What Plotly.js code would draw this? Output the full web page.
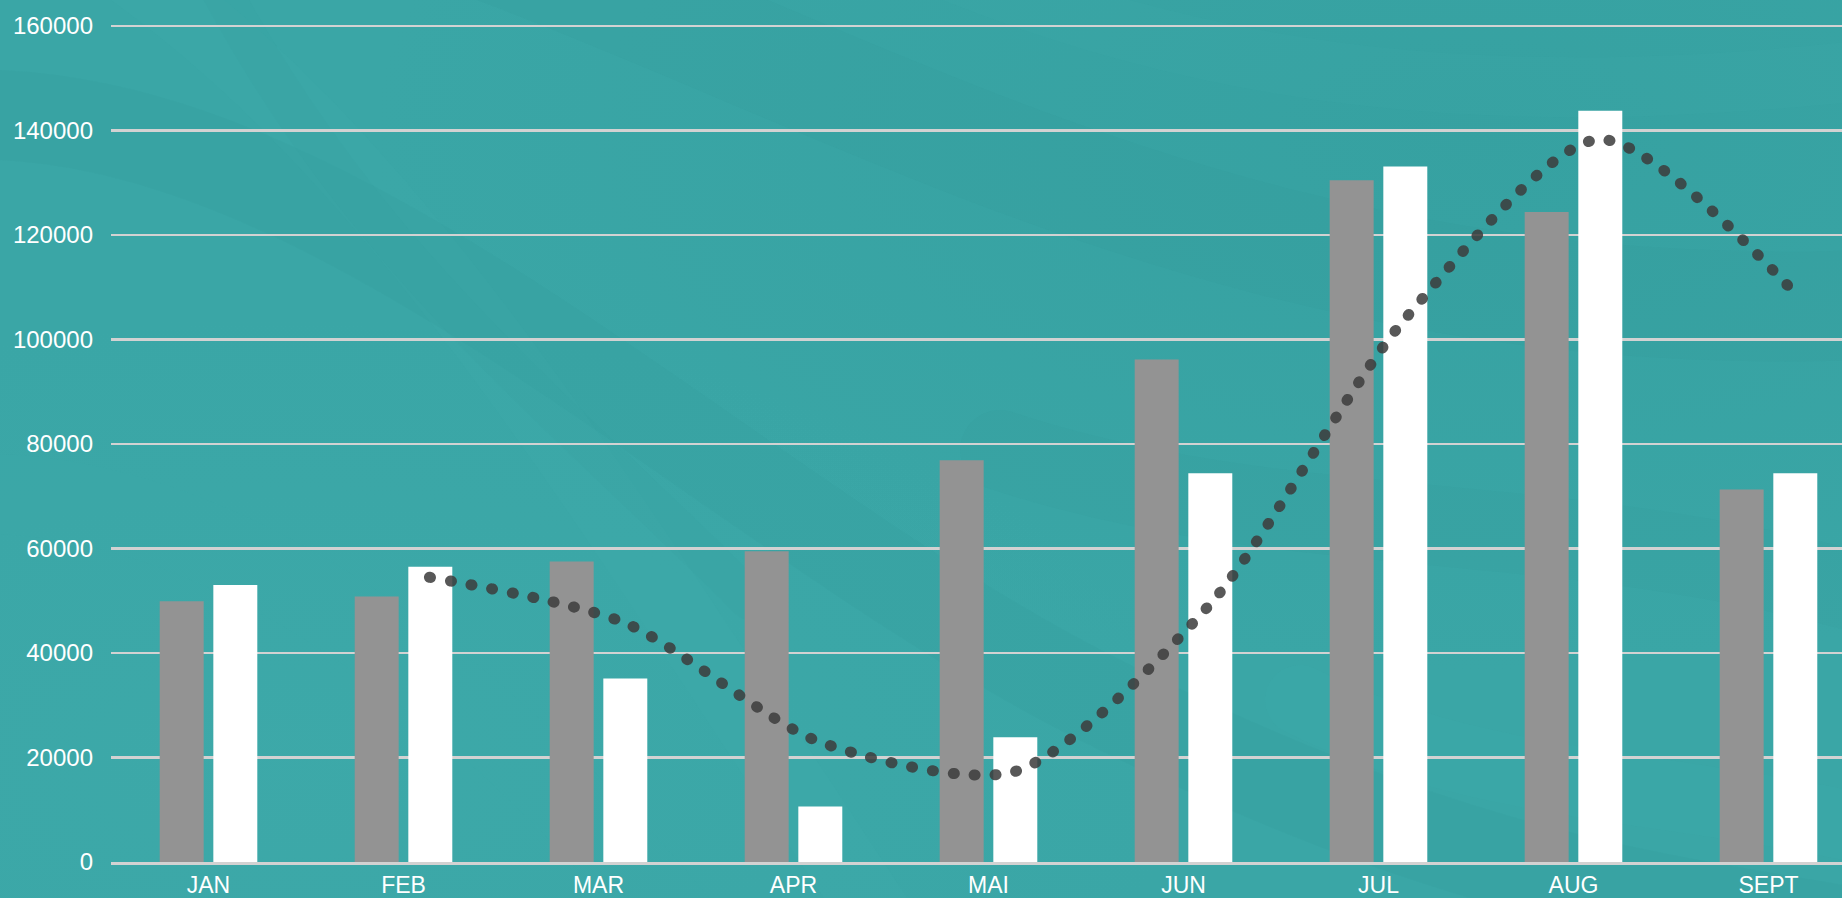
<!DOCTYPE html>
<html>
<head>
<meta charset="utf-8">
<script src="https://cdn.plot.ly/plotly-3.0.1.min.js"></script>
<style>
  html, body { margin: 0; padding: 0; width: 1842px; height: 898px; overflow: hidden; }
  body { background-color: #39a5a5; position: relative; }
  #bg { position: absolute; left: 0; top: 0; width: 1842px; height: 898px; }
  #chart { position: absolute; left: 0; top: 0; width: 1842px; height: 898px; }
</style>
</head>
<body>
<svg id="bg" width="1842" height="898" xmlns="http://www.w3.org/2000/svg">
  <defs>
    <radialGradient id="g1" cx="0.8" cy="0.15" r="0.6">
      <stop offset="0" stop-color="#2f9898" stop-opacity="0.35"/>
      <stop offset="1" stop-color="#2f9898" stop-opacity="0"/>
    </radialGradient>
    <radialGradient id="g2" cx="0.15" cy="0.85" r="0.5">
      <stop offset="0" stop-color="#45b0b0" stop-opacity="0.25"/>
      <stop offset="1" stop-color="#45b0b0" stop-opacity="0"/>
    </radialGradient>
  </defs>
  <rect width="1842" height="898" fill="#3aa6a6"/>
  <rect width="1842" height="898" fill="url(#g1)"/>
  <rect width="1842" height="898" fill="url(#g2)"/>
  <g fill="none" stroke-linecap="round">
    <path d="M -100 120 C 300 60, 700 500, 1100 700 S 1700 900, 1950 950" stroke="#2f9696" stroke-opacity="0.12" stroke-width="90"/>
    <path d="M 100 -50 C 400 150, 600 500, 900 950" stroke="#47b2b2" stroke-opacity="0.10" stroke-width="70"/>
    <path d="M 500 -50 C 900 100, 1300 350, 1950 300" stroke="#2f9696" stroke-opacity="0.12" stroke-width="110"/>
    <path d="M 900 -50 C 1200 80, 1500 120, 1950 60" stroke="#47b2b2" stroke-opacity="0.10" stroke-width="60"/>
    <path d="M -100 500 C 200 450, 500 700, 700 950" stroke="#47b2b2" stroke-opacity="0.09" stroke-width="80"/>
    <path d="M 1000 450 C 1300 550, 1600 500, 1950 620" stroke="#2f9696" stroke-opacity="0.10" stroke-width="80"/>
    <path d="M 200 -50 C 350 250, 550 400, 750 600" stroke="#2f9696" stroke-opacity="0.08" stroke-width="40"/>
    <path d="M 1300 700 C 1500 800, 1700 780, 1950 850" stroke="#47b2b2" stroke-opacity="0.09" stroke-width="70"/>
  </g>
</svg>
<div id="chart"></div>
<script>
const months = ["JAN", "FEB", "MAR", "APR", "MAI", "JUN", "JUL", "AUG", "SEPT"];
const seriesGray = [49900, 50800, 57500, 59500, 76900, 96200, 130500, 124400, 71300];
const seriesWhite = [53000, 56500, 35100, 10600, 23900, 74400, 133100, 143800, 74400];
const trendMonths = ["FEB", "MAR", "APR", "MAI", "JUN", "JUL", "AUG", "SEPT"];
const trendValues = [54500, 45800, 23000, 17300, 49200, 103800, 138300, 109000];
const yTicks = [0, 20000, 40000, 60000, 80000, 100000, 120000, 140000, 160000];

const fontFamily = "Liberation Sans, Arial, Helvetica, sans-serif";
const yFont = { family: fontFamily, size: 24, color: "#ffffff" };
const xFont = { family: fontFamily, size: 23, color: "#ffffff" };
const xRange = [-0.5, 8.377];
const trendShift = 0.133;

const traces = [
  { type: "bar", x: months, y: seriesGray, marker: { color: "#939393" }, hoverinfo: "skip", name: "A" },
  { type: "bar", x: months, y: seriesWhite, marker: { color: "#ffffff" }, hoverinfo: "skip", name: "B" },
  { type: "scatter", mode: "lines", x: trendMonths, y: trendValues, xaxis: "x2",
    line: { shape: "spline", smoothing: 0.75, color: "rgba(60,60,60,0.86)", width: 11, dash: "1px,20px" },
    hoverinfo: "skip", name: "trend" }
];

const layout = {
  width: 1842, height: 898,
  margin: { l: 111, r: 0, t: 25, b: 36 },
  paper_bgcolor: "rgba(0,0,0,0)",
  plot_bgcolor: "rgba(0,0,0,0)",
  showlegend: false,
  barmode: "group",
  bargap: 0.45,
  bargroupgap: 0.18,
  font: yFont,
  xaxis: {
    type: "category", categoryarray: months, range: xRange,
    showgrid: false, zeroline: false,
    showline: true, linecolor: "#d2d2d2", linewidth: 3,
    ticks: "", tickfont: xFont, ticklabelstandoff: 0, fixedrange: true
  },
  xaxis2: {
    type: "category", categoryarray: months, overlaying: "x",
    range: [xRange[0] - trendShift, xRange[1] - trendShift],
    visible: false, fixedrange: true
  },
  yaxis: {
    range: [0, 160200], tickvals: yTicks, ticktext: yTicks.map(String),
    showgrid: true, gridcolor: "#d2d2d2", gridwidth: 2.2,
    zeroline: false, showline: false, ticks: "",
    tickfont: yFont, ticklabelstandoff: 17, fixedrange: true
  }
};

Plotly.newPlot("chart", traces, layout, { displayModeBar: false, staticPlot: true }).then(function () {
  document.querySelectorAll(".scatterlayer .js-line").forEach(function (p) {
    p.style.strokeLinecap = "round";
  });
});
</script>
</body>
</html>
